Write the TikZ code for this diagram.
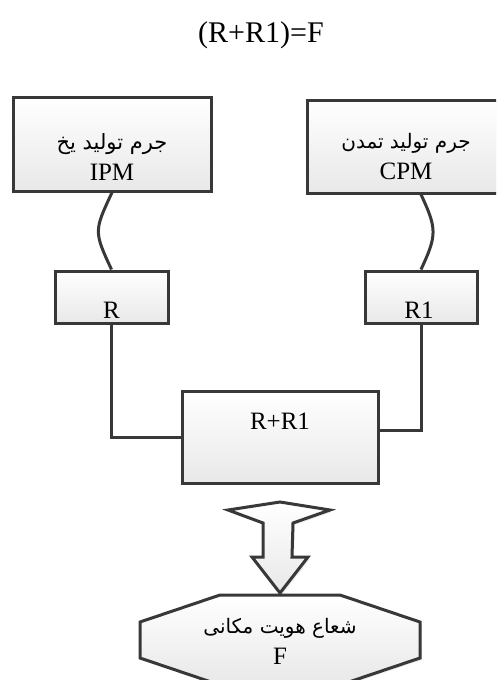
\documentclass[tikz,border=0pt]{standalone}
\usepackage{fontspec}
\setmainfont{Liberation Serif}
\newfontfamily\arabicfont[Script=Arabic]{DejaVu Sans}
\TeXXeTstate=1
\usetikzlibrary{calc,positioning,shadows}

\newcommand{\fa}[2][20]{{\arabicfont\fontsize{#1}{31}\selectfont\beginR #2\endR}}

\begin{document}
\begin{tikzpicture}[x=1pt,y=1pt,
    box/.style={draw=black!78, line width=3pt, top color=white, bottom color=black!9,
        drop shadow={opacity=0.15, shadow xshift=2pt, shadow yshift=-2pt}},
    txt/.style={align=center, inner sep=0pt, font=\fontsize{25}{31}\selectfont},
    link/.style={draw=black!78, line width=3pt}]
        \useasboundingbox (0,0) rectangle (496,-680);
        \clip (0,0) rectangle (496,-680);

        \node[txt, font=\fontsize{30}{36}\selectfont] (title) at (261,-35) {(R+R1)=F};

        \node[box, minimum width=198pt, minimum height=94pt] (IPM) at (112,-144) {};
        \node[box, minimum width=198pt, minimum height=93pt] (CPM) at (406,-146.5) {};
        \node[box, minimum width=113pt, minimum height=52pt] (R) at (111.5,-297) {};
        \node[box, minimum width=112pt, minimum height=52pt] (R1) at (421,-297) {};
        \node[box, minimum width=196pt, minimum height=92pt] (RR) at (280,-437) {};

        \node[txt] (IPMt) at (112,-157) {\fa[21]{جرم تولید یخ}\\IPM};
        \node[txt] (CPMt) at (406,-157) {\fa{جرم تولید تمدن}\\CPM};
        \node[txt] (Rt) at (111.5,-310) {R};
        \node[txt] (R1t) at (419,-310) {R1};
        \node[txt] (RRt) at (280,-421) {R+R1};

        \draw[link] (IPM.south) to[out=-115,in=115,looseness=1.4] (R.north);
        \draw[link] (CPM.south -| R1.north) to[out=-65,in=65,looseness=1.3] (R1.north);
        \draw[link] (R.south) |- (RR.west);
        \draw[link] (R1.south) |- ([yshift=7pt]RR.east);

        % block arrow
        \draw[box] (228,-510) -- (280,-502) -- (330,-510) -- (293,-523) -- (292,-557) -- (308,-557)
            -- (280,-593) -- (252,-557) -- (263,-557) -- (263,-523) -- cycle;

        % octagon
        \draw[box] (220,-595) -- (340,-595) -- (420,-622) -- (420,-658) -- (340,-685)
            -- (220,-685) -- (140,-658) -- (140,-622) -- cycle;
        \node[txt] (F) at (280,-641) {\fa[20]{شعاع هویت مکانی}\\F};
    \end{tikzpicture}
\end{document}
